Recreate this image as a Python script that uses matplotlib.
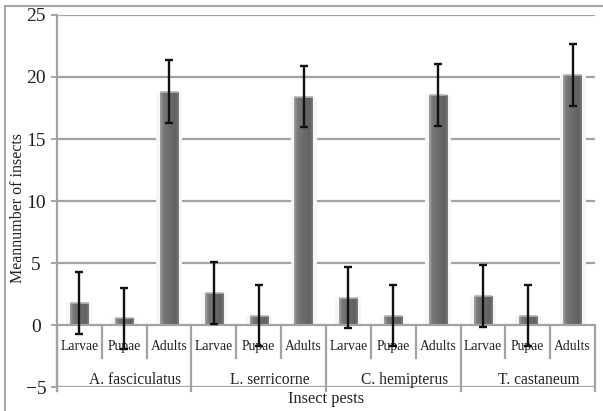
import numpy as np
import matplotlib
matplotlib.use("Agg")
import matplotlib.pyplot as plt
from matplotlib.colors import LinearSegmentedColormap
from matplotlib.lines import Line2D

plt.rcParams["font.family"] = ["Liberation Serif", "DejaVu Serif"]

pests = ["A. fasciculatus", "L. serricorne", "C. hemipterus", "T. castaneum"]
stages = ["Larvae", "Pupae", "Adults"]
means = [1.75, 0.55, 18.8,
         2.55, 0.75, 18.4,
         2.2, 0.75, 18.55,
         2.35, 0.75, 20.15]
errors = [2.5, 2.45, 2.55,
          2.5, 2.47, 2.45,
          2.45, 2.47, 2.5,
          2.52, 2.45, 2.5]
yticks = [-5, 0, 5, 10, 15, 20, 25]

grid_col = "#a3a3a3"
n = len(means)
x = np.arange(n)

fig = plt.figure(figsize=(6.03, 4.11), dpi=100)
ax = fig.add_axes([57 / 603, 1 - 387 / 411, (595 - 57) / 603, (387 - 15) / 411])

# grid lines
for v in yticks:
    if v != 0:
        ax.axhline(v, color=grid_col, lw=1.6, zorder=1)

# light glow behind each bar, hides the grid next to it
ax.bar(x, means, width=0.58, color="#f6f6f6", zorder=2)
bars = ax.bar(x, means, width=0.41, color="#6a6a6a", zorder=3)

cmap = LinearSegmentedColormap.from_list(
    "bar", [(0, "#a0a0a0"), (0.18, "#787878"), (0.5, "#6b6b6b"),
            (0.85, "#616161"), (1, "#7c7c7c")])
grad = np.linspace(0, 1, 64).reshape(1, -1)
for b in bars:
    x0, w, h = b.get_x(), b.get_width(), b.get_height()
    im = ax.imshow(grad, cmap=cmap, aspect="auto", extent=[x0, x0 + w, 0, h],
                   zorder=3.5, interpolation="bilinear")
    im.set_clip_path(b)
    # lighter cap on top
    ax.plot([x0, x0 + w], [h, h], color="#b5b5b5", lw=1.2, zorder=3.6,
            solid_capstyle="butt")

ax.errorbar(x, means, yerr=errors, fmt="none", ecolor="#111111",
            elinewidth=1.7, capsize=3.2, capthick=1.7, zorder=6)

# category axis at zero with the label table underneath
ax.axhline(0, color=grid_col, lw=1.6, zorder=5)
for i in range(n + 1):
    xb = i - 0.5
    if i % 3 == 0:
        ax.plot([xb, xb], [0, -5.35], color=grid_col, lw=1.6, clip_on=False, zorder=5)
    else:
        ax.plot([xb, xb], [0, -2.7], color=grid_col, lw=1.6, zorder=5)
for i in range(n):
    ax.text(x[i], -1.75, stages[i % 3], ha="center", va="center",
            fontsize=9.8, color="#222222")
for g, name in enumerate(pests):
    ax.text(3 * g + 1.25, -4.4, name, ha="center", va="center",
            fontsize=11.2, color="#222222")

ax.set_xlim(-0.5, n - 0.5)
ax.set_ylim(-5, 25)
ax.set_xticks([])
ax.set_yticks(yticks)
ax.set_yticklabels(["\u22125" if v < 0 else str(v) for v in yticks])
for lbl in ax.get_yticklabels():
    lbl.set_ha("center")
ax.tick_params(axis="y", direction="out", length=4, width=1.4, color=grid_col,
               labelsize=14, pad=11, labelcolor="#222222")
for s in ["top", "right", "bottom"]:
    ax.spines[s].set_visible(False)
ax.spines["left"].set_color(grid_col)
ax.spines["left"].set_linewidth(1.6)
ax.plot([-0.5, -0.5], [-5, -5.35], color=grid_col, lw=1.6, clip_on=False)

fig.text(18 / 603, 1 - 208 / 411, "Meannumber of insects", rotation=90,
         ha="center", va="center", fontsize=11.5, color="#222222")
fig.text(326 / 603, 1 - 399 / 411, "Insect pests", ha="center", va="center",
         fontsize=11.8, color="#222222")

# outer chart frame (partially visible in the original)
fig.add_artist(Line2D([5 / 603, 1], [1 - 6 / 411, 1 - 6 / 411], color="#a8a8a8", lw=1.5))
fig.add_artist(Line2D([5 / 603, 5 / 603], [0, 1 - 6 / 411], color="#a8a8a8", lw=1.5))

fig.savefig("out.png", dpi=100)
